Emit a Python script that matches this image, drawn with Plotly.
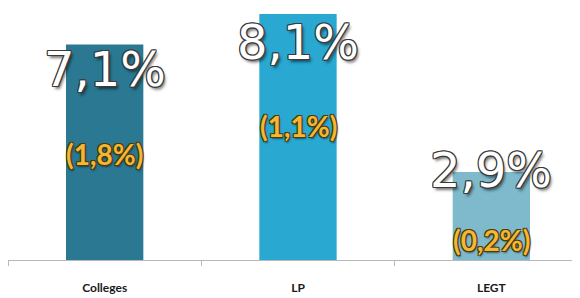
import plotly.graph_objects as go

categories = ["Colleges", "LP", "LEGT"]
values = [7.1, 8.1, 2.9]
main_labels = ["7,1%", "8,1%", "2,9%"]
sub_labels = ["(1,8%)", "(1,1%)", "(0,2%)"]
bar_colors = ["#2a7892", "#29a8d1", "#7fbacc"]

# label placement (pixel shifts relative to bar top)
main_shift = [-25, -28, 2]
sub_shift = [-110, -112, -68]

fig = go.Figure()
fig.add_trace(go.Bar(
    x=categories, y=values, width=0.4,
    marker=dict(color=bar_colors, line=dict(width=0)),
    hoverinfo="skip",
))

outline_dark = ("-1px -1px 0 #3a3a3a, 1px -1px 0 #3a3a3a, -1px 1px 0 #3a3a3a, "
                "1px 1px 0 #3a3a3a, 0 -1px 0 #3a3a3a, 0 1px 0 #3a3a3a, "
                "-1px 0 0 #3a3a3a, 1px 0 0 #3a3a3a, 2px 3px 3px rgba(0,0,0,0.55)")
outline_sub = ("-1px -1px 0 #4a3a10, 1px -1px 0 #4a3a10, -1px 1px 0 #4a3a10, "
               "1px 1px 0 #4a3a10, 1px 2px 2px rgba(0,0,0,0.5)")

for c, v, t, s, ms, ss in zip(categories, values, main_labels, sub_labels, main_shift, sub_shift):
    fig.add_annotation(x=c, y=v, text=t, showarrow=False, yshift=ms,
                       font=dict(family="DejaVu Sans, sans-serif", size=48,
                                 color="white", shadow=outline_dark))
    fig.add_annotation(x=c, y=v, text=s, showarrow=False, yshift=ss,
                       font=dict(family="Lato, Open Sans, sans-serif", size=28,
                                 color="#f5b730", weight="bold", shadow=outline_sub))

fig.update_layout(
    width=580, height=290,
    margin=dict(l=0, r=0, t=0, b=38),
    paper_bgcolor="white", plot_bgcolor="white",
    showlegend=False,
    bargap=0.6,
    xaxis=dict(
        type="category", range=[-0.5, 2.5],
        showline=True, linecolor="#b8b8b8", linewidth=1,
        ticks="outside", tickson="boundaries", ticklen=5, tickcolor="#b8b8b8",
        showgrid=False,
        tickfont=dict(family="Lato, Open Sans, sans-serif", size=12, color="#1a1a1a", weight="bold"),
        ticklabelstandoff=17,
    ),
    yaxis=dict(range=[0, 8.3], visible=False, showgrid=False, zeroline=False),
)

fig.write_html("out.html")
